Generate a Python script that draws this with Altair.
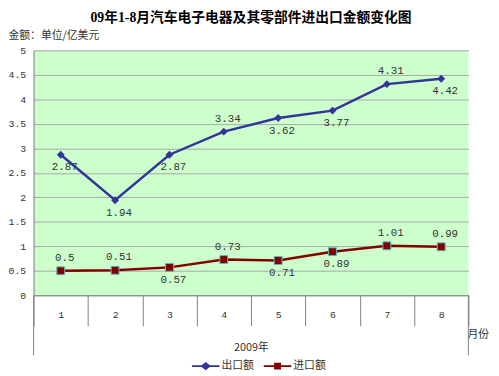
import altair as alt
import pandas as pd

title_text = "09年1-8月汽车电子电器及其零部件进出口金额变化图"
y_title = "金额：单位/亿美元"
x_title = "2009年"
x_unit = "月份"
months = ["1", "2", "3", "4", "5", "6", "7", "8"]
series_names = ["出口额", "进口额"]
export_vals = [2.87, 1.94, 2.87, 3.34, 3.62, 3.77, 4.31, 4.42]
import_vals = [0.5, 0.51, 0.57, 0.73, 0.71, 0.89, 1.01, 0.99]
export_label_pos = ["below", "below", "below", "above", "below", "below", "above", "below"]
import_label_pos = ["above", "above", "below", "above", "below", "below", "above", "above"]
colors = ["#333399", "#800000"]

rows = []
for name, vals, poss in [(series_names[0], export_vals, export_label_pos),
                         (series_names[1], import_vals, import_label_pos)]:
    for m, v, p in zip(months, vals, poss):
        rows.append({"month": m, "series": name, "value": v, "label": str(v), "pos": p})
df = pd.DataFrame(rows)

CJK = "'Noto Sans CJK SC', sans-serif"
MONO = "'Liberation Mono', 'Noto Sans CJK SC', monospace"

x_enc = alt.X("month:O", sort=months,
              scale=alt.Scale(type="band", paddingInner=0, paddingOuter=0),
              axis=alt.Axis(title=x_title, labelAngle=0, tickBand="extent", tickSize=31,
                            tickColor="#808080", domainColor="#808080", labelPadding=-16,
                            labelFont=MONO, labelFontSize=10, labelColor="#333333",
                            titleFont=CJK, titleFontSize=11, titleFontWeight="normal",
                            titleColor="#333333", titleY=53, titleBaseline="middle"))
y_enc = alt.Y("value:Q", scale=alt.Scale(domain=[0, 5], nice=False),
              axis=alt.Axis(title=y_title, values=[i * 0.5 for i in range(11)], tickSize=0,
                            format=".1~f",
                            labelPadding=8, labelFont=MONO, labelFontSize=10,
                            labelColor="#333333", domainColor="#808080", gridColor="#A8A8A8",
                            titleFont=CJK, titleFontSize=11, titleFontWeight="normal",
                            titleColor="#333333", titleAngle=0, titleAlign="left",
                            titleBaseline="middle", titleX=-26, titleY=-15))

diamond_path = "M-1,-0.07H-0.3L0,-0.3L0.3,-0.07H1V0.07H0.3L0,0.3L-0.3,0.07H-1Z"
square_path = "M-1,-0.07H-0.25V-0.25H0.25V-0.07H1V0.07H0.25V0.25H-0.25V0.07H-1Z"

color_scale = alt.Scale(domain=series_names, range=colors)
base = alt.Chart(df)

lines = base.mark_line(strokeWidth=2.5).encode(
    x=x_enc, y=y_enc, color=alt.Color("series:N", scale=color_scale))

legend_layer = base.transform_filter("false").mark_point(
    filled=True, size=784, opacity=1).encode(
    x=x_enc, y=y_enc,
    color=alt.Color("series:N", scale=color_scale,
                    legend=alt.Legend(
                        orient="none", legendX=161, legendY=307, direction="horizontal",
                        title=None, symbolSize=784, labelFont=CJK, labelFontSize=11,
                        labelColor="#333333", labelOffset=2, columnPadding=10,
                        symbolOpacity=1, symbolStrokeWidth=0)),
    shape=alt.Shape("series:N", scale=alt.Scale(domain=series_names,
                                                range=[diamond_path, square_path])))

exp_pts = base.transform_filter(alt.datum.series == series_names[0]).mark_point(
    shape="diamond", filled=True, size=64, color=colors[0], opacity=1).encode(x=x_enc, y=y_enc)
imp_pts = base.transform_filter(alt.datum.series == series_names[1]).mark_point(
    shape="square", filled=True, size=64, fill=colors[1], stroke="#5FB8B8",
    strokeWidth=1, opacity=1).encode(x=x_enc, y=y_enc)

lab_above = base.transform_filter(alt.datum.pos == "above").mark_text(
    dy=-13, dx=4, font=MONO, fontSize=11, color="#333333").encode(x=x_enc, y=y_enc, text="label:N")
lab_below = base.transform_filter(alt.datum.pos == "below").mark_text(
    dy=13, dx=4, font=MONO, fontSize=11, color="#333333").encode(x=x_enc, y=y_enc, text="label:N")

unit = alt.Chart(pd.DataFrame({"t": [x_unit]})).mark_text(
    font=CJK, fontSize=11, color="#333333").encode(
    x=alt.value(452), y=alt.value(289), text="t:N")

edges = alt.Chart(pd.DataFrame({"e": [0]})).mark_rule(color="#808080").encode(
    x=alt.value(0), y=alt.value(249), y2=alt.value(310))
edges2 = alt.Chart(pd.DataFrame({"e": [0]})).mark_rule(color="#808080").encode(
    x=alt.value(442), y=alt.value(249), y2=alt.value(310))

chart = alt.layer(lines, legend_layer, exp_pts, imp_pts, lab_above, lab_below, unit,
                  edges, edges2).properties(
    width=442, height=249,
    title=alt.TitleParams(title_text, font="'Liberation Serif', 'Noto Sans CJK SC', serif",
                          fontSize=14, fontWeight="bold", color="#000000", anchor="middle",
                          offset=5),
    autosize=alt.AutoSizeParams(type="none"),
    padding={"left": 26, "top": 40, "right": 23, "bottom": 79},
    background="white",
).configure_view(fill="#CCFFCC", stroke=None)

chart.save("out.html", embed_options={"renderer": "svg", "actions": False})
